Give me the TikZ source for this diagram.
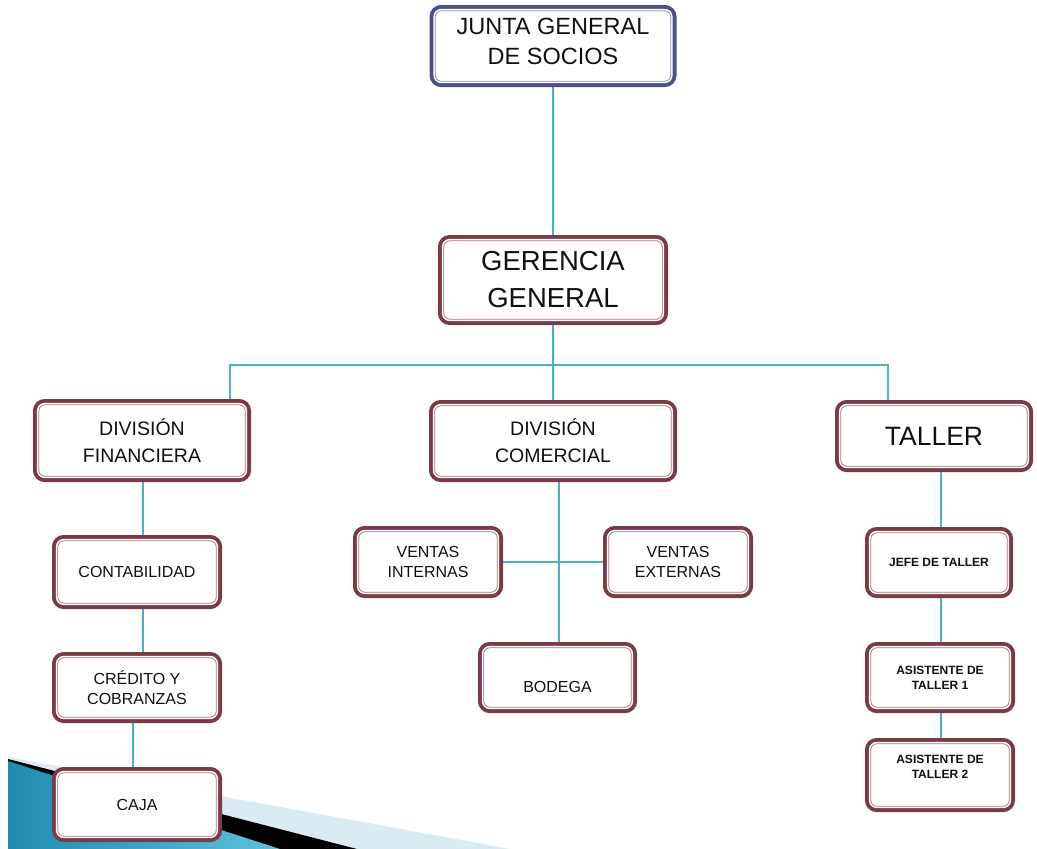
\documentclass[tikz,border=0pt]{standalone}
\usepackage{fontspec}
\setmainfont{Liberation Sans}
\usetikzlibrary{calc,backgrounds}
\definecolor{boxred}{HTML}{7A3B47}
\definecolor{boxin}{HTML}{A8767F}
\definecolor{juntaout}{HTML}{4C5184}
\definecolor{juntain}{HTML}{8C8FB5}
\definecolor{linkcol}{HTML}{4FAFC9}
\definecolor{txt}{HTML}{101010}
\definecolor{swlight}{HTML}{DAEBF2}
\definecolor{swblueA}{HTML}{1E8CB0}
\definecolor{swblueB}{HTML}{5FC0DB}
\newcommand{\fJunta}{\fontsize{23.5}{30}\selectfont}
\newcommand{\fGer}{\fontsize{27.5}{37}\selectfont}
\newcommand{\fTaller}{\fontsize{26.5}{32}\selectfont}
\newcommand{\fDiv}{\fontsize{19.5}{27}\selectfont}
\newcommand{\fMid}{\fontsize{16}{20}\selectfont}
\newcommand{\fSmall}{\bfseries\fontsize{12}{15}\selectfont}
\tikzset{
  orgbox/.style n args={2}{rounded corners=6pt, fill=white, inner sep=0pt, outer sep=0pt,
    align=center, text=txt,
    preaction={draw=#1, line width=11.6pt},
    preaction={draw=white, line width=3.8pt},
    draw=#2, line width=0.8pt},
  redbox/.style={orgbox={boxred}{boxin}},
  bluebox/.style={orgbox={juntaout}{juntain}},
  sz/.style 2 args={minimum width=#1pt, minimum height=#2pt},
  link/.style={draw=linkcol, line width=1.4pt},
  lbl/.style={text=txt, align=center, inner sep=0pt}
}
\begin{document}
\begin{tikzpicture}[x=1pt,y=-1pt]
\useasboundingbox (0,0) rectangle (1037,849);

% boxes
\node[bluebox, sz={235.4}{70.4}, label={[lbl, font=\fJunta, yshift=5pt]center:JUNTA GENERAL\\DE SOCIOS}] (junta) at (553,46) {};
\node[redbox, sz={218.4}{78.4}, font=\fGer] (gerencia) at (553,280) {GERENCIA\\GENERAL};
\node[redbox, sz={206.4}{71.4}, font=\fDiv] (divfin) at (142,440.5) {DIVISIÓN\\FINANCIERA};
\node[redbox, sz={236.4}{70.4}, font=\fDiv] (divcom) at (553,441) {DIVISIÓN\\COMERCIAL};
\node[redbox, sz={186.4}{60.4}, font=\fTaller] (taller) at (934,436) {TALLER};
\node[redbox, sz={158.4}{62.4}, font=\fMid] (contab) at (137,572) {CONTABILIDAD};
\node[redbox, sz={158.4}{59.4}, font=\fMid] (credito) at (137,687.5) {CRÉDITO Y\\COBRANZAS};
\node[redbox, sz={158.4}{63.4}, font=\fMid] (caja) at (137,804.5) {CAJA};
\node[redbox, sz={138.4}{60.4}, font=\fMid] (vint) at (428,562) {VENTAS\\INTERNAS};
\node[redbox, sz={138.4}{60.4}, font=\fMid] (vext) at (678,562) {VENTAS\\EXTERNAS};
\node[redbox, sz={147.4}{59.4}, label={[lbl, font=\fMid, yshift=-9pt]center:BODEGA}] (bodega) at (557.5,677.5) {};
\node[redbox, sz={136.4}{59.4}, font=\fSmall] (jefe) at (939,562.5) {JEFE DE TALLER};
\node[redbox, sz={138.4}{59.4}, font=\fSmall] (asist1) at (940,677.5) {ASISTENTE DE\\TALLER 1};
\node[redbox, sz={138.4}{62.4}, label={[lbl, font=\fSmall, yshift=8pt]center:ASISTENTE DE\\TALLER 2}] (asist2) at (940,775) {};

\begin{scope}[on background layer]
  % decorative swoosh
  \fill[swlight] (8,757) -- (510,849) -- (8,849) -- cycle;
  \fill[black] (8,759) -- (357,849) -- (8,849) -- cycle;
  \fill[left color=swblueA, right color=swblueB] (8,761) -- (280,849) -- (8,849) -- cycle;

  % connector coordinates
  \coordinate (busL) at (230,365);
  \coordinate (busM) at (553,365);
  \coordinate (busR) at (888,365);
  \coordinate (cfin) at (143,0);
  \coordinate (ccaja) at (133,0);
  \coordinate (ccom) at (559,0);
  \coordinate (ctal) at (941,0);

  \draw[link] (junta.south) -- (gerencia.north);
  \draw[link] (gerencia.south) -- (busM);
  \draw[link] (divfin.north -| busL) -- (busL) -- (busR) -- (taller.north -| busR);
  \draw[link] (busM) -- (divcom.north);
  \draw[link] (divfin.south -| cfin) -- (contab.north -| cfin);
  \draw[link] (contab.south -| cfin) -- (credito.north -| cfin);
  \draw[link] (credito.south -| ccaja) -- (caja.north -| ccaja);
  \draw[link] (divcom.south -| ccom) -- (bodega.north -| ccom);
  \draw[link] (vint.east) -- (vext.west);
  \draw[link] (taller.south -| ctal) -- (jefe.north -| ctal);
  \draw[link] (jefe.south -| ctal) -- (asist1.north -| ctal);
  \draw[link] (asist1.south -| ctal) -- (asist2.north -| ctal);
\end{scope}
\end{tikzpicture}
\end{document}
